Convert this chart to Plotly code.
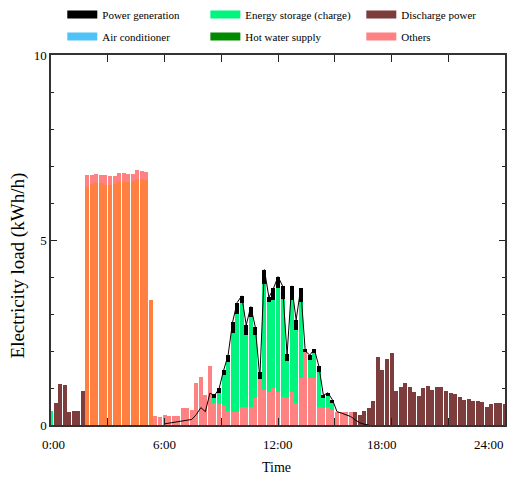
import numpy as np
import plotly.graph_objects as go

# ---------------- data (time slots of 0.24 h, slot k centred at k*0.24 h) ----------------
N_SLOTS = 101
SLOT_H = 0.24

tick_hours = [0, 3, 6, 9, 12, 15, 18, 21, 24]
time_labels = ["0:00", "6:00", "12:00", "18:00", "24:00"]
time_label_pos = [0.12, 5.99, 12.0, 17.51, 23.14]   # where the labels sit under the axis (h)

# Energy storage (charge), kWh/h
charge_start = 0
charge_night = [0.38]
charge_day_start = 36
charge_day = [0.12, 0.30, 0.81, 1.33, 2.12, 2.64, 2.81, 1.95, 2.43, 1.69,
              0.00, 2.85, 2.43, 2.38, 2.79, 2.63, 1.02, 2.50, 1.98, 2.07,
              0.00, 0.50, 0.68, 0.94, 0.27, 0.29, 0.20]

# Power generation (stacked segment on top of the charge bars)
gen_seg_start = 36
gen_seg = [0.12, 0.13, 0.14, 0.18, 0.31, 0.31, 0.20, 0.27, 0.27, 0.23,
           0.21, 0.39, 0.14, 0.31, 0.32, 0.36, 0.18, 0.38, 0.27, 0.36,
           0.07, 0.13, 0.11, 0.15, 0.09, 0.08, 0.08]

# Power generation curve
gen_line_start = 25
gen_line = [0.03, 0.05, 0.08, 0.11, 0.13, 0.14, 0.15, 0.28, 0.47, 0.36, 0.86,
            0.80, 0.97, 1.47, 1.88, 2.78, 3.31, 3.49, 2.70, 3.20, 2.65,
            1.28, 4.20, 3.45, 3.69, 4.01, 3.76, 1.90, 3.76, 2.84, 3.69,
            2.00, 1.89, 2.05, 1.59, 0.80, 0.87, 0.68,
            0.36, 0.32, 0.27, 0.23, 0.14, 0.06, 0.02, 0.00]

# Discharge power
discharge_night_start = 1
discharge_night = [0.60, 1.11, 1.08, 0.36, 0.38, 0.38, 0.92]
discharge_eve_start = 67
discharge_eve = [0.36, 0.27, 0.37, 0.46, 0.65, 1.85, 1.49, 1.78, 1.95, 0.92,
                 1.03, 1.14, 1.03, 0.89, 0.78, 1.00, 1.05, 0.95, 1.03, 1.03,
                 0.92, 0.86, 0.84, 0.76, 0.68, 0.70, 0.65, 0.65, 0.62, 0.49,
                 0.57, 0.59, 0.59, 0.57]

# Heat-pump water heating (orange bars at night)
hotwater_start = 8
hotwater = [6.42, 6.51, 6.54, 6.54, 6.49, 6.49, 6.51, 6.59, 6.57, 6.57,
            6.60, 6.65, 6.65, 6.63, 3.38]

# Others
others_start = 8
others = [0.34, 0.25, 0.24, 0.22, 0.27, 0.24, 0.22, 0.21, 0.23, 0.21,
          0.18, 0.24, 0.21, 0.21, 0.00,
          0.24, 0.22, 0.27, 0.25, 0.25, 0.24, 0.47, 0.47, 0.41, 1.14, 1.31, 0.82, 1.59,
          0.60, 0.56, 0.54, 0.38, 0.36, 0.36, 0.48, 0.48, 0.50, 0.74, 1.23, 0.95, 0.90, 1.00,
          0.90, 0.77, 0.72, 0.88, 0.59, 1.26, 1.98, 1.26, 1.26, 0.50, 0.45, 0.50, 0.40,
          0.36, 0.36, 0.36, 0.36]

legend_names = ["Power generation", "Air conditioner",
                "Energy storage (charge)", "Hot water supply",
                "Discharge power", "Others"]

# ---------------- styles ----------------
C_GEN = "#000000"
C_CHARGE = "#00F57F"
C_DISCH = "#7D3D3D"
C_AC = "#4FC3F7"
C_HW = "#008A00"
C_OTHERS = "#FF8282"
C_HEAT = "#FF8040"
FONT = "Liberation Serif, Times New Roman, serif"


def place(*parts):
    arr = np.zeros(N_SLOTS)
    for start, vals in parts:
        arr[start:start + len(vals)] += np.array(vals)
    return arr


x_slots = np.arange(N_SLOTS) * SLOT_H

fig = go.Figure()
bar_kw = dict(x=x_slots, showlegend=False, marker_line_width=0, hoverinfo="skip")
fig.add_bar(y=place((hotwater_start, hotwater)), marker_color=C_HEAT, name="Heat pump", **bar_kw)
fig.add_bar(y=place((others_start, others)), marker_color=C_OTHERS, name="Others", **bar_kw)
fig.add_bar(y=place((charge_start, charge_night), (charge_day_start, charge_day)),
            marker_color=C_CHARGE, name="Energy storage (charge)", **bar_kw)
fig.add_bar(y=place((gen_seg_start, gen_seg)), marker_color=C_GEN, name="Power generation", **bar_kw)
fig.add_bar(y=place((discharge_night_start, discharge_night), (discharge_eve_start, discharge_eve)),
            marker_color=C_DISCH, name="Discharge power", **bar_kw)

x_line = (np.arange(len(gen_line)) + gen_line_start) * SLOT_H
fig.add_scatter(x=x_line, y=gen_line, mode="lines", line=dict(color="black", width=1),
                showlegend=False, hoverinfo="skip")

# legend entries (wide swatches)
legend_cols = [("legend", [(legend_names[0], C_GEN), (legend_names[1], C_AC)]),
               ("legend2", [(legend_names[2], C_CHARGE), (legend_names[3], C_HW)]),
               ("legend3", [(legend_names[4], C_DISCH), (legend_names[5], C_OTHERS)])]
for lg, items in legend_cols:
    for name, col in items:
        fig.add_scatter(x=[None], y=[None], mode="lines", name=name, legend=lg,
                        legendgroup=name, line=dict(color=col, width=8))

leg_common = dict(y=1.1486, xanchor="left", yanchor="top", orientation="v",
                  bgcolor="rgba(0,0,0,0)", font=dict(family=FONT, size=11, color="black"),
                  tracegroupgap=3, traceorder="grouped", itemwidth=30)

annotations = [
    dict(text=lab, x=pos, xref="x", y=-0.0514, yref="paper", showarrow=False,
         xanchor="center", yanchor="middle", font=dict(family=FONT, size=13))
    for lab, pos in zip(time_labels, time_label_pos)
]
annotations += [
    dict(text="Time", xref="paper", yref="paper", x=0.497, y=-0.116,
         showarrow=False, font=dict(family=FONT, size=14), xanchor="center", yanchor="middle"),
    dict(text="Electricity load (kWh/h)", xref="paper", yref="paper", x=-0.072, y=0.432,
         showarrow=False, textangle=-90, font=dict(family=FONT, size=19),
         xanchor="center", yanchor="middle"),
]

fig.update_layout(
    width=521, height=481,
    margin=dict(l=51, r=16, t=55, b=56, autoexpand=False),
    plot_bgcolor="white", paper_bgcolor="white",
    barmode="stack", bargap=0.12,
    font=dict(family=FONT, size=13, color="black"),
    legend=dict(x=0.0249, **leg_common),
    legend2=dict(x=0.340, **leg_common),
    legend3=dict(x=0.6835, **leg_common),
    xaxis=dict(range=[0, 24], tickmode="array", tickvals=tick_hours, showticklabels=False,
               ticks="inside", ticklen=7, tickwidth=1.2, tickcolor="#222",
               showline=True, linecolor="#333", linewidth=1.5, mirror="ticks",
               showgrid=False, zeroline=False),
    yaxis=dict(range=[0, 10], tickmode="array", tickvals=[0, 5, 10], ticktext=["0", "5", "10"],
               ticks="inside", ticklen=6, tickwidth=1.2, tickcolor="#222",
               minor=dict(dtick=1, ticks="inside", ticklen=3, tickcolor="#222", tickwidth=1.2),
               showline=True, linecolor="#333", linewidth=1.5, mirror="ticks",
               showgrid=False, zeroline=False, tickfont=dict(family=FONT, size=13)),
    annotations=annotations,
)

fig.write_html("out.html")
